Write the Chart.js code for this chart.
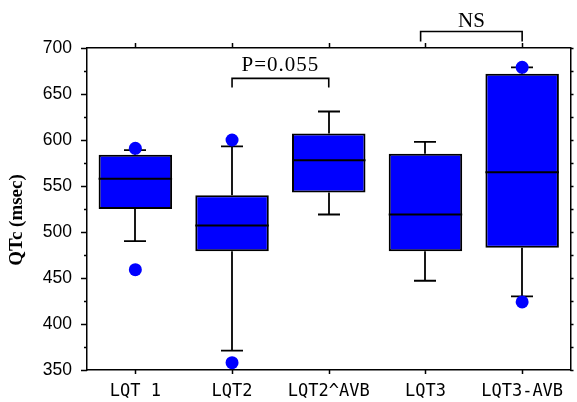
<!DOCTYPE html>
<html><head><meta charset="utf-8">
<script src="https://cdn.jsdelivr.net/npm/chart.js@4"></script>
<style>html,body{margin:0;padding:0;background:#fff}#wrap{width:577px;height:402px;position:relative}</style>
</head><body><div id="wrap"><canvas id="c"></canvas></div>
<script>
// ---- data ----
const categories = ['LQT 1', 'LQT2', 'LQT2^AVB', 'LQT3', 'LQT3-AVB'];
const q1 = [525, 479, 543, 479, 483];
const q3 = [584, 540, 607, 585, 672];
const medians = [558, 507, 578, 519, 565];
const whiskerLow = [490, 371, 519, 447, 430];
const whiskerHigh = [589, 593, 631, 598, 679];
const outliersHigh = [591, 600, null, null, 679];
const outliersLow = [459, 358, null, null, 424];
const yMin = 350, yMax = 700, yStep = 50, yMinorStep = 25;
const yTitle = 'QTc (msec)';
// comparison brackets (category index from/to, value of bar top, value of leg end, value of label)
const compLabels = ['P=0.055', 'NS'];
const compFrom = [1, 2.95];
const compTo = [2, 4];
const compTop = [667, 718];
const compLeg = [657, 707];
const compText = [681, 729];

const BLUE = '#0000FF';

const boxPlugin = {
  id: 'boxPlugin',
  beforeDatasetsDraw(chart) {
    const {ctx, scales: {x, y}} = chart;
    ctx.save();
    ctx.strokeStyle = '#000';
    ctx.lineWidth = 1.8;
    categories.forEach((c, i) => {
      const px = Math.round(x.getPixelForValue(i));
      const capHalf = 11;
      ctx.beginPath();
      ctx.moveTo(px, y.getPixelForValue(q3[i]));
      ctx.lineTo(px, y.getPixelForValue(whiskerHigh[i]));
      ctx.moveTo(px, y.getPixelForValue(q1[i]));
      ctx.lineTo(px, y.getPixelForValue(whiskerLow[i]));
      [whiskerHigh[i], whiskerLow[i]].forEach(v => {
        const py = y.getPixelForValue(v);
        ctx.moveTo(px - capHalf, py);
        ctx.lineTo(px + capHalf, py);
      });
      ctx.stroke();
    });
    ctx.restore();
  },
  afterDatasetsDraw(chart) {
    const {ctx, scales: {y}} = chart;
    const meta = chart.getDatasetMeta(0);
    ctx.save();
    ctx.strokeStyle = '#000';
    ctx.lineWidth = 2;
    meta.data.forEach((bar, i) => {
      const py = y.getPixelForValue(medians[i]);
      ctx.beginPath();
      ctx.moveTo(bar.x - bar.width / 2, py);
      ctx.lineTo(bar.x + bar.width / 2, py);
      ctx.stroke();
    });
    ctx.restore();
  },
  afterDraw(chart) {
    const {ctx, chartArea: a, scales: {x, y}} = chart;
    ctx.save();
    ctx.strokeStyle = '#000';
    ctx.lineWidth = 1.5;
    ctx.beginPath();
    for (let v = yMin; v <= yMax; v += yMinorStep) {
      const py = Math.round(y.getPixelForValue(v)) + 0.5;
      const len = (v % yStep === 0) ? 6 : 3;
      ctx.moveTo(a.left - len, py); ctx.lineTo(a.left, py);
      ctx.moveTo(a.right, py); ctx.lineTo(a.right + 3, py);
    }
    categories.forEach((c, i) => {
      const px = Math.round(x.getPixelForValue(i)) + 0.5;
      ctx.moveTo(px, a.bottom); ctx.lineTo(px, a.bottom + 4);
      ctx.moveTo(px, a.top); ctx.lineTo(px, a.top - 5);
    });
    ctx.stroke();
    // y axis title
    ctx.save();
    ctx.translate(17, (a.top + a.bottom) / 2 + 11);
    ctx.rotate(-Math.PI / 2);
    ctx.fillStyle = '#000';
    ctx.font = 'bold 19px "Liberation Serif", "Times New Roman", serif';
    ctx.textAlign = 'center';
    ctx.textBaseline = 'middle';
    ctx.fillText(yTitle, 0, 0);
    ctx.restore();
    // comparison brackets
    ctx.lineWidth = 1.6;
    compLabels.forEach((lab, i) => {
      const x0 = x.getPixelForValue(compFrom[i]);
      const x1 = x.getPixelForValue(compTo[i]);
      const yt = y.getPixelForValue(compTop[i]);
      const yl = y.getPixelForValue(compLeg[i]);
      ctx.beginPath();
      ctx.moveTo(x0, yl); ctx.lineTo(x0, yt); ctx.lineTo(x1, yt); ctx.lineTo(x1, yl);
      ctx.stroke();
      ctx.fillStyle = '#000';
      ctx.font = '21px "Liberation Serif", serif';
      ctx.letterSpacing = i === 0 ? '1px' : '0px';
      ctx.textAlign = 'center';
      ctx.textBaseline = 'middle';
      ctx.fillText(lab, (x0 + x1) / 2, y.getPixelForValue(compText[i]));
    });
    ctx.restore();
  }
};

new Chart(document.getElementById('c'), {
  data: {
    labels: categories,
    datasets: [
      {
        type: 'bar',
        data: q1.map((v, i) => [v, q3[i]]),
        backgroundColor: BLUE,
        borderColor: '#000',
        borderWidth: 2,
        borderSkipped: false,
        barPercentage: 0.76,
        categoryPercentage: 1,
        order: 2
      },
      {
        type: 'line',
        data: outliersHigh,
        showLine: false,
        pointRadius: 6.5,
        pointBackgroundColor: BLUE,
        pointBorderWidth: 0,
        order: 1
      },
      {
        type: 'line',
        data: outliersLow,
        showLine: false,
        pointRadius: 6.5,
        pointBackgroundColor: BLUE,
        pointBorderWidth: 0,
        order: 1
      }
    ]
  },
  options: {
    responsive: true,
    maintainAspectRatio: false,
    animation: false,
    layout: {padding: {top: 48, right: 3, left: 0, bottom: 0}},
    plugins: {legend: {display: false}, tooltip: {enabled: false}},
    scales: {
      x: {
        type: 'category',
        position: 'bottom',
        offset: true,
        grid: {display: false, drawTicks: false},
        border: {display: true, color: '#000', width: 1.5},
        ticks: {
          color: '#000',
          padding: 11,
          maxRotation: 0,
          autoSkip: false,
          font: {family: '"DejaVu Sans Mono", monospace', size: 17}
        },
        afterFit(s) { s.height = 32; }
      },
      x2: {
        type: 'category',
        position: 'top',
        offset: true,
        grid: {display: false, drawTicks: false},
        border: {display: true, color: '#000', width: 1.5},
        ticks: {display: false},
        afterFit(s) { s.height = 0; }
      },
      y: {
        type: 'linear',
        position: 'left',
        min: yMin,
        max: yMax,
        grid: {display: false, drawTicks: false},
        border: {display: true, color: '#000', width: 1.5},
        ticks: {
          stepSize: yStep,
          color: '#000',
          padding: 15,
          font: {family: '"Liberation Sans", Arial, sans-serif', size: 17.5}
        },
        title: {display: false},
        afterFit(s) { s.width = 87; }
      },
      y2: {
        type: 'linear',
        position: 'right',
        min: yMin,
        max: yMax,
        grid: {display: false, drawTicks: false},
        border: {display: true, color: '#000', width: 1.5},
        ticks: {display: false},
        afterFit(s) { s.width = 0; }
      }
    }
  },
  plugins: [boxPlugin]
});
</script>
</body></html>
